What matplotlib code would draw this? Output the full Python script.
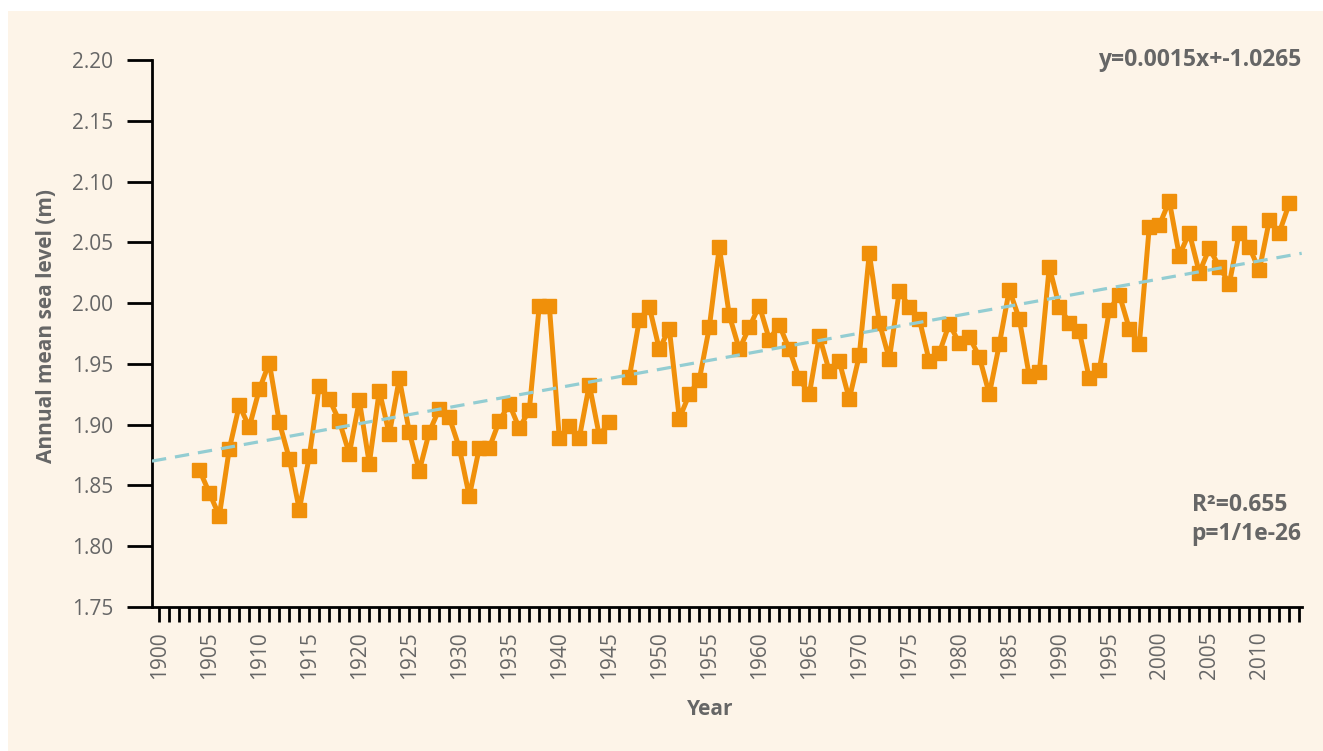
import numpy as np
import matplotlib
matplotlib.use("Agg")
import matplotlib.pyplot as plt
from matplotlib.patches import Rectangle

# Annual mean sea level (1946 has no value)
years = list(range(1904, 2014))
sea_level = [
    1.863, 1.844, 1.825, 1.880, 1.916, 1.898, 1.929, 1.951, 1.902, 1.872,  # 1904-1913
    1.830, 1.874, 1.932, 1.921, 1.903, 1.876, 1.920, 1.868, 1.928, 1.892,  # 1914-1923
    1.938, 1.894, 1.862, 1.894, 1.913, 1.906, 1.881, 1.841, 1.881, 1.881,  # 1924-1933
    1.903, 1.917, 1.897, 1.912, 1.998, 1.998, 1.889, 1.899, 1.889, 1.933,  # 1934-1943
    1.891, 1.902, np.nan, 1.939, 1.986, 1.997, 1.962, 1.979, 1.905, 1.925,  # 1944-1953
    1.937, 1.980, 2.046, 1.990, 1.962, 1.980, 1.998, 1.970, 1.982, 1.962,  # 1954-1963
    1.938, 1.925, 1.973, 1.944, 1.952, 1.921, 1.957, 2.041, 1.984, 1.954,  # 1964-1973
    2.010, 1.997, 1.987, 1.952, 1.959, 1.983, 1.967, 1.972, 1.956, 1.925,  # 1974-1983
    1.966, 2.011, 1.987, 1.940, 1.943, 2.030, 1.997, 1.984, 1.977, 1.938,  # 1984-1993
    1.945, 1.994, 2.007, 1.979, 1.966, 2.063, 2.064, 2.084, 2.039, 2.058,  # 1994-2003
    2.025, 2.045, 2.030, 2.016, 2.058, 2.046, 2.027, 2.068, 2.058, 2.082,  # 2004-2013
]
# dashed trend line, value at the left and right edge of the plot
trend_years = [1899.27, 2014.24]
trend_values = [1.870, 2.041]

y_ticks = [1.75, 1.80, 1.85, 1.90, 1.95, 2.00, 2.05, 2.10, 2.15, 2.20]
x_labels = list(range(1900, 2015, 5))

eq_text = "y=0.0015x+-1.0265"
stats_text = "R\u00b2=0.655\np=1/1e-26"

ORANGE = "#F0900A"
TREND = "#93CDD2"
CREAM = "#FDF4E8"
GREY = "#666666"

plt.rcParams['font.family'] = ['Open Sans', 'DejaVu Sans']

fig = plt.figure(figsize=(13.23, 7.51), dpi=100, facecolor="white")
fig.patches.append(Rectangle((8 / 1323, 0), 1, 1 - 11 / 751, transform=fig.transFigure,
                             facecolor=CREAM, edgecolor="none", zorder=-10))
ax = fig.add_axes([152 / 1323, 1 - 607 / 751, (1301.7 - 152) / 1323, (607 - 60) / 751])
ax.set_facecolor("none")

ax.plot(trend_years, trend_values, color=TREND, lw=2.3, dashes=(4.5, 2.8), zorder=3)
ax.plot(years, sea_level, color=ORANGE, lw=3.6, marker="s", markersize=9.5, zorder=2)

ax.set_xlim(trend_years[0], trend_years[1])
ax.set_ylim(1.75, 2.20)
ax.set_yticks(y_ticks)
ax.set_yticklabels([f"{v:.2f}" for v in y_ticks])
ax.set_xticks(range(1900, 2015))
ax.set_xticklabels([str(y) if y in x_labels else "" for y in range(1900, 2015)], rotation=90)

for s in ["top", "right"]:
    ax.spines[s].set_visible(False)
for s in ["left", "bottom"]:
    ax.spines[s].set_linewidth(2)
    ax.spines[s].set_color("black")

ax.tick_params(axis="y", length=18, width=2, colors="black", labelcolor=GREY, labelsize=15, pad=10)
ax.tick_params(axis="x", length=10.5, width=2, colors="black", labelcolor=GREY, labelsize=15, pad=7)

ax.set_xlabel("Year", fontsize=15, fontweight="bold", color=GREY)
ax.set_ylabel("Annual mean sea level (m)", fontsize=15, fontweight="bold", color=GREY)
ax.xaxis.set_label_coords((710 - 152) / (1301.7 - 152), -(699 - 607) / (607 - 60))
ax.yaxis.set_label_coords(-(152 - 57) / (1301.7 - 152), (607 - 326) / (607 - 60))

ax.text(1.0, 1.0, eq_text, transform=ax.transAxes, ha="right", va="center",
        fontsize=16.5, fontweight="bold", color=GREY)
ax.text(1.0, 0.16, stats_text, transform=ax.transAxes, ha="right", va="center",
        multialignment="left", fontsize=16.5, fontweight="bold", color=GREY, linespacing=1.25)

fig.savefig("out.png", dpi=100, facecolor=fig.get_facecolor())
